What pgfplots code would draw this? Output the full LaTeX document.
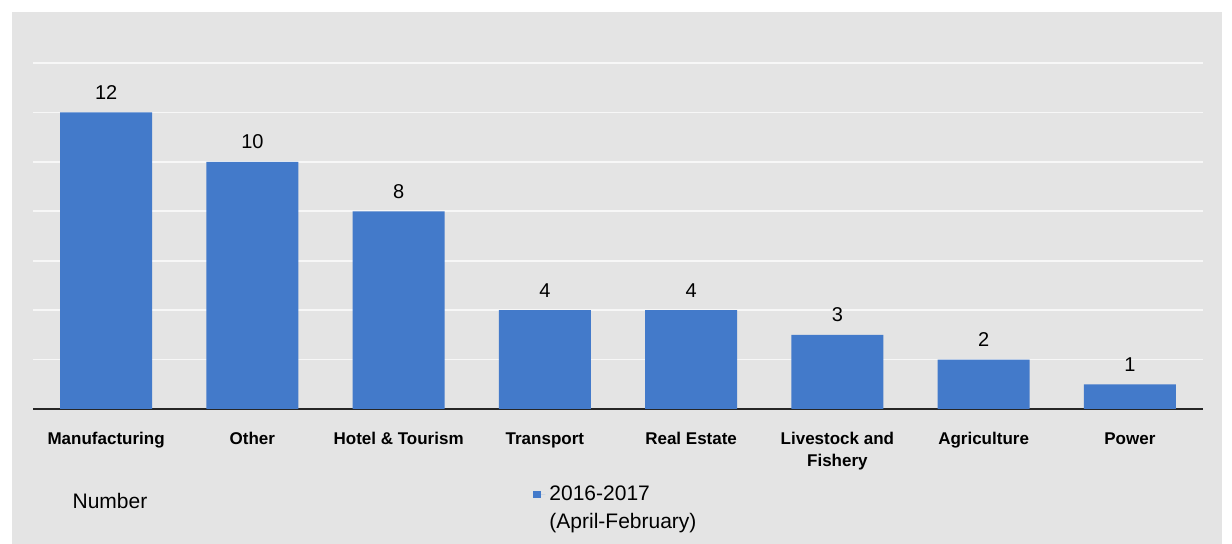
\documentclass[border=0pt]{standalone}
\usepackage{pgfplots}
\pgfplotsset{compat=1.18}
\usepackage{fontspec}
\setmainfont{Liberation Sans}
\definecolor{panel}{RGB}{228,228,228}
\definecolor{barblue}{RGB}{67,122,202}
\definecolor{gridc}{RGB}{247,247,247}
\begin{document}
\begin{tikzpicture}
\fill[white] (-16.5pt,-67.5pt) rectangle (599.5pt,204.5pt);
\fill[panel] (-10.5pt,-67.5pt) rectangle (594.5pt,198.5pt);
\useasboundingbox (-16.5pt,-67.5pt) rectangle (599.5pt,204.5pt);
\begin{axis}[
 at={(0pt,0pt)}, anchor=south west,
 scale only axis, width=585pt, height=173pt,
 xmin=-0.5, xmax=7.5, ymin=0, ymax=14,
 clip=false,
 ybar, bar width=46pt, bar shift=0pt,
 xtick=data,
 xticklabels={Manufacturing,Other,Hotel \& Tourism,Transport,Real Estate,{Livestock and\\Fishery},Agriculture,Power},
 typeset ticklabels with strut,
 xticklabel style={font=\fontsize{8.5}{11}\selectfont\bfseries, align=center, yshift=-6.5pt},
 major tick length=0pt,
 ytick={2,4,...,14}, yticklabels={},
 ymajorgrids, grid style={gridc, line width=0.8pt},
 axis x line*=bottom, axis y line*=left,
 y axis line style={draw=none},
 x axis line style={-, line width=1pt, black!85},
 nodes near coords,
 nodes near coords style={font=\fontsize{10}{12}\selectfont, yshift=3pt, black},
 /pgf/number format/assume math mode=true,
 legend style={at={(0.4274,-0.2087)}, anchor=north west, draw=none, fill=none,
   font=\fontsize{10.5}{12}\selectfont, row sep=1pt, inner sep=0pt},
 legend cell align=left,
]
\addplot[fill=barblue, draw=none,
  legend image code/.code={\fill[barblue] (0pt,-1.6pt) rectangle (4pt,1.6pt); \path (0pt,0pt) -- (6pt,0pt);}]
  coordinates {(0,12) (1,10) (2,8) (3,4) (4,4) (5,3) (6,2) (7,1)};
\addlegendentry{2016-2017}
\addlegendimage{empty legend}
\addlegendentry{(April-February)}
\node[font=\fontsize{10.5}{12}\selectfont] at (rel axis cs:0.0658,-0.266) {Number};
\end{axis}
\end{tikzpicture}
\end{document}
